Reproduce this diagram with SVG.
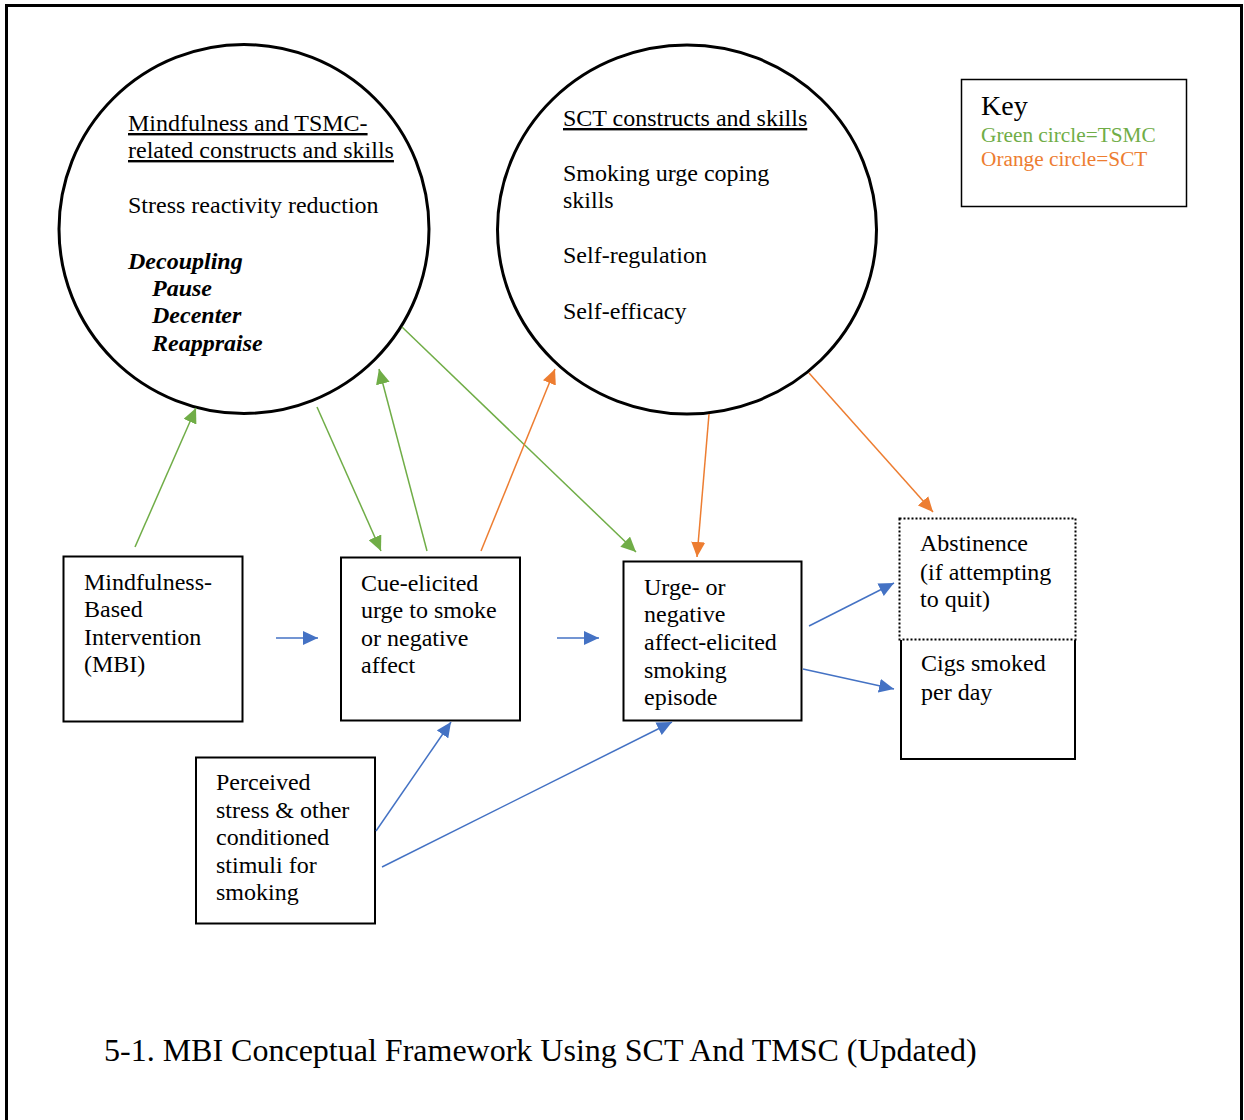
<svg xmlns="http://www.w3.org/2000/svg" width="1244" height="1120" viewBox="0 0 1244 1120">
<style>
text{font-family:"Liberation Serif","Times New Roman",serif;font-size:24px;fill:#000}
.bi{font-weight:bold;font-style:italic}
.u{text-decoration:underline}
.box{fill:#fff;stroke:#000;stroke-width:2}
.g{stroke:#70AD47;stroke-width:1.5;fill:none}
.o{stroke:#ED7D31;stroke-width:1.5;fill:none}
.b{stroke:#4472C4;stroke-width:1.5;fill:none}
</style>
<defs>
<marker id="ag" markerUnits="userSpaceOnUse" markerWidth="16" markerHeight="14" viewBox="0 0 16 14" refX="15" refY="7" orient="auto"><path d="M0,0 L15,7 L0,14 Z" fill="#70AD47"/></marker>
<marker id="ao" markerUnits="userSpaceOnUse" markerWidth="16" markerHeight="14" viewBox="0 0 16 14" refX="15" refY="7" orient="auto"><path d="M0,0 L15,7 L0,14 Z" fill="#ED7D31"/></marker>
<marker id="ab" markerUnits="userSpaceOnUse" markerWidth="16" markerHeight="14" viewBox="0 0 16 14" refX="15" refY="7" orient="auto"><path d="M0,0 L15,7 L0,14 Z" fill="#4472C4"/></marker>
</defs>
<rect width="1244" height="1120" fill="#fff"/>
<rect x="6.5" y="5.5" width="1235" height="1130" fill="none" stroke="#000" stroke-width="3"/>

<g id="tsmc-circle">
<ellipse cx="244" cy="229" rx="185" ry="184.5" fill="#fff" stroke="#000" stroke-width="3"/>
<text x="128" y="131" class="u">Mindfulness and TSMC-</text>
<text x="128" y="158" class="u">related constructs and skills</text>
<text x="128" y="213">Stress reactivity reduction</text>
<text x="128" y="269" class="bi">Decoupling</text>
<text x="152" y="296" class="bi">Pause</text>
<text x="152" y="323" class="bi">Decenter</text>
<text x="152" y="351" class="bi">Reappraise</text>
</g>

<g id="sct-circle">
<ellipse cx="687" cy="229.5" rx="189.5" ry="184.5" fill="#fff" stroke="#000" stroke-width="3"/>
<text x="563" y="126" class="u">SCT constructs and skills</text>
<text x="563" y="181">Smoking urge coping</text>
<text x="563" y="208">skills</text>
<text x="563" y="263">Self-regulation</text>
<text x="563" y="319">Self-efficacy</text>
</g>

<g id="key">
<rect x="961.5" y="79.5" width="225" height="127" fill="#fff" stroke="#000" stroke-width="1.5"/>
<text x="981" y="115" style="font-size:28px">Key</text>
<text x="981" y="142" style="font-size:21.3px;fill:#70AD47">Green circle=TSMC</text>
<text x="981" y="166" style="font-size:21.3px;fill:#ED7D31">Orange circle=SCT</text>
</g>

<g id="mbi">
<rect class="box" x="63.5" y="556.5" width="179" height="165"/>
<text x="84" y="590">Mindfulness-</text>
<text x="84" y="617">Based</text>
<text x="84" y="645">Intervention</text>
<text x="84" y="672">(MBI)</text>
</g>

<g id="cue">
<rect class="box" x="341" y="557.5" width="179" height="163"/>
<text x="361" y="591">Cue-elicited</text>
<text x="361" y="618">urge to smoke</text>
<text x="361" y="646">or negative</text>
<text x="361" y="673">affect</text>
</g>

<g id="urge">
<rect class="box" x="623.5" y="561.5" width="178" height="159"/>
<text x="644" y="595">Urge- or</text>
<text x="644" y="622">negative</text>
<text x="644" y="650">affect-elicited</text>
<text x="644" y="678">smoking</text>
<text x="644" y="705">episode</text>
</g>

<g id="abstinence">
<rect x="899.5" y="518.5" width="176" height="121" fill="#fff" stroke="#000" stroke-width="2" stroke-dasharray="2,2"/>
<text x="920" y="551">Abstinence</text>
<text x="920" y="580">(if attempting</text>
<text x="920" y="607">to quit)</text>
</g>

<g id="cigs">
<path d="M901,640 V759 H1075 V640" fill="none" stroke="#000" stroke-width="2"/>
<text x="921" y="671">Cigs smoked</text>
<text x="921" y="700">per day</text>
</g>

<g id="perceived">
<rect class="box" x="196" y="757.5" width="179" height="166"/>
<text x="216" y="790">Perceived</text>
<text x="216" y="818">stress &amp; other</text>
<text x="216" y="845">conditioned</text>
<text x="216" y="873">stimuli for</text>
<text x="216" y="900">smoking</text>
</g>

<g id="connectors">
<line class="g" x1="135" y1="547" x2="196" y2="408" marker-end="url(#ag)"/>
<line class="g" x1="317" y1="407" x2="381" y2="551" marker-end="url(#ag)"/>
<line class="g" x1="427" y1="551" x2="379" y2="369" marker-end="url(#ag)"/>
<line class="g" x1="402" y1="327" x2="636" y2="552" marker-end="url(#ag)"/>
<line class="o" x1="481" y1="551" x2="555" y2="369" marker-end="url(#ao)"/>
<line class="o" x1="709" y1="414" x2="697" y2="557" marker-end="url(#ao)"/>
<line class="o" x1="809" y1="373" x2="933" y2="512" marker-end="url(#ao)"/>
<line class="b" x1="276" y1="638" x2="318" y2="638" marker-end="url(#ab)"/>
<line class="b" x1="557" y1="638" x2="599" y2="638" marker-end="url(#ab)"/>
<line class="b" x1="809" y1="626" x2="894" y2="583" marker-end="url(#ab)"/>
<line class="b" x1="803" y1="669" x2="894" y2="689" marker-end="url(#ab)"/>
<line class="b" x1="376" y1="831" x2="451" y2="722" marker-end="url(#ab)"/>
<line class="b" x1="382" y1="867" x2="672" y2="722" marker-end="url(#ab)"/>
</g>

<text x="104" y="1061" style="font-size:32px">5-1. MBI Conceptual Framework Using SCT And TMSC (Updated)</text>
</svg>
